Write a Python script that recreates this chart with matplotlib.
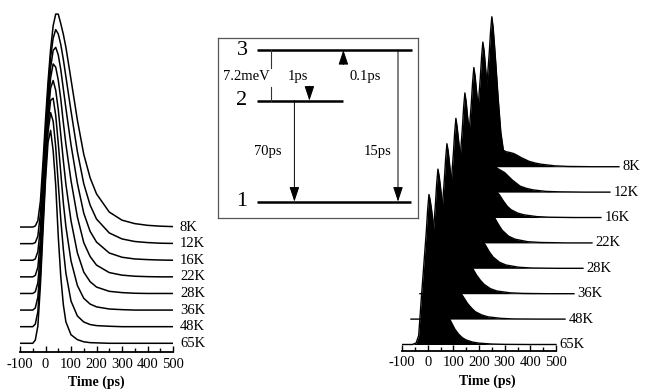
import matplotlib
matplotlib.use("Agg")
import matplotlib.pyplot as plt
from matplotlib.ticker import FixedLocator

plt.rcParams['font.family'] = ['Liberation Serif', 'DejaVu Serif']

# ---------------- data ----------------
temps = ['8K', '12K', '16K', '22K', '28K', '36K', '48K', '65K']
tick_values = [-100, 0, 100, 200, 300, 400, 500]
tick_labels = ['-100', '0', '100', '200', '300', '400', '500']
minor_values = [-50, 50, 150, 250, 350, 450]

# left panel: normalised PL transients (time in ps)
t_left = [-100, -50, -40, -30, -20, -10, 0, 10, 20, 30, 40, 50, 60, 70, 80,
          100, 125, 150, 175, 200, 250, 300, 350, 400, 450, 500]
left_8K = [0, 0, 0.005, 0.03, 0.12, 0.30, 0.50, 0.68, 0.83, 0.94, 0.995, 0.995, 0.95, 0.90, 0.84,
           0.69, 0.50, 0.34, 0.23, 0.155, 0.07, 0.032, 0.016, 0.008, 0.004, 0.002]
left_12K = [0, 0, 0.005, 0.035, 0.14, 0.33, 0.53, 0.72, 0.87, 0.96, 1.0, 0.98, 0.93, 0.86, 0.78,
            0.62, 0.43, 0.28, 0.18, 0.115, 0.05, 0.022, 0.01, 0.005, 0.002, 0.001]
left_16K = [0, 0, 0.006, 0.04, 0.15, 0.35, 0.56, 0.75, 0.90, 0.98, 0.995, 0.96, 0.89, 0.80, 0.71,
            0.54, 0.36, 0.22, 0.135, 0.085, 0.034, 0.014, 0.006, 0.003, 0.001, 0]
left_22K = [0, 0, 0.007, 0.045, 0.17, 0.38, 0.60, 0.79, 0.93, 0.995, 0.98, 0.92, 0.83, 0.72, 0.62,
            0.45, 0.28, 0.16, 0.095, 0.055, 0.02, 0.008, 0.003, 0.001, 0, 0]
left_28K = [0, 0, 0.008, 0.05, 0.19, 0.41, 0.64, 0.83, 0.96, 0.995, 0.95, 0.86, 0.74, 0.62, 0.51,
            0.34, 0.19, 0.10, 0.055, 0.03, 0.01, 0.004, 0.001, 0, 0, 0]
left_36K = [0, 0, 0.01, 0.06, 0.21, 0.44, 0.68, 0.87, 0.98, 0.99, 0.91, 0.78, 0.64, 0.50, 0.39,
            0.23, 0.115, 0.055, 0.028, 0.015, 0.005, 0.002, 0, 0, 0, 0]
left_48K = [0, 0, 0.012, 0.07, 0.24, 0.48, 0.72, 0.91, 1.0, 0.96, 0.84, 0.67, 0.50, 0.36, 0.25,
            0.12, 0.05, 0.022, 0.01, 0.005, 0.002, 0, 0, 0, 0, 0]
left_65K = [0, 0, 0.015, 0.08, 0.27, 0.52, 0.76, 0.94, 0.995, 0.90, 0.74, 0.50, 0.31, 0.18, 0.10,
            0.04, 0.017, 0.007, 0.003, 0.002, 0, 0, 0, 0, 0, 0]
left_traces = [left_8K, left_12K, left_16K, left_22K, left_28K, left_36K, left_48K, left_65K]

# right panel: normalised transients (filled waterfall)
t_right = [-100, -60, -45, -35, -25, -15, -5, 0, 5, 10, 15, 20, 30, 40, 50, 60, 75, 90,
           105, 120, 135, 150, 175, 200, 250, 300, 400, 500]
right_8K = [0, 0, 0.01, 0.06, 0.30, 0.53, 0.76, 0.90, 1.0, 0.93, 0.82, 0.70, 0.45, 0.23, 0.11, 0.10, 0.095, 0.088,
            0.075, 0.06, 0.048, 0.036, 0.024, 0.016, 0.006, 0.002, 0, 0]
right_12K = [0, 0, 0.01, 0.06, 0.30, 0.53, 0.76, 0.90, 1.0, 0.94, 0.84, 0.74, 0.52, 0.33, 0.20, 0.16, 0.145, 0.13,
             0.105, 0.08, 0.06, 0.04, 0.025, 0.015, 0.005, 0.002, 0, 0]
right_16K = [0, 0, 0.01, 0.06, 0.30, 0.53, 0.76, 0.90, 1.0, 0.94, 0.85, 0.76, 0.56, 0.40, 0.30, 0.25, 0.21, 0.18,
             0.15, 0.11, 0.075, 0.052, 0.03, 0.018, 0.006, 0.002, 0, 0]
right_22K = [0, 0, 0.01, 0.06, 0.30, 0.53, 0.76, 0.90, 1.0, 0.94, 0.85, 0.77, 0.58, 0.43, 0.34, 0.29, 0.25, 0.23,
             0.20, 0.17, 0.125, 0.085, 0.045, 0.025, 0.008, 0.003, 0, 0]
right_28K = [0, 0, 0.01, 0.06, 0.30, 0.53, 0.76, 0.90, 1.0, 0.94, 0.86, 0.78, 0.59, 0.44, 0.34, 0.29, 0.25, 0.22,
             0.19, 0.155, 0.11, 0.075, 0.04, 0.022, 0.007, 0.002, 0, 0]
right_36K = [0, 0, 0.01, 0.06, 0.30, 0.53, 0.76, 0.90, 1.0, 0.95, 0.87, 0.79, 0.60, 0.44, 0.34, 0.28, 0.24, 0.21,
             0.17, 0.125, 0.09, 0.062, 0.033, 0.018, 0.006, 0.002, 0, 0]
right_48K = [0, 0, 0.01, 0.06, 0.30, 0.53, 0.76, 0.90, 1.0, 0.95, 0.88, 0.80, 0.60, 0.43, 0.32, 0.26, 0.22, 0.185,
             0.145, 0.105, 0.075, 0.05, 0.028, 0.015, 0.005, 0.001, 0, 0]
right_65K = [0, 0, 0.01, 0.06, 0.30, 0.53, 0.76, 0.90, 1.0, 0.96, 0.90, 0.83, 0.62, 0.43, 0.31, 0.25, 0.21, 0.155,
             0.105, 0.07, 0.045, 0.03, 0.016, 0.009, 0.003, 0.001, 0, 0]
right_traces = [right_8K, right_12K, right_16K, right_22K, right_28K, right_36K, right_48K, right_65K]

# level scheme
level_names = ['3', '2', '1']
transition_labels = ['7.2meV', '1ps', '0.1ps', '70ps', '15ps']

# ---------------- figure ----------------
W, H = 646, 392
fig = plt.figure(figsize=(W / 100, H / 100), dpi=100)


def px_axes(x0, y0, x1, y1):
    return fig.add_axes([x0 / W, 1 - y1 / H, (x1 - x0) / W, (y1 - y0) / H])


def style_time_axis(ax, label_x):
    for s in ('top', 'left', 'right'):
        ax.spines[s].set_visible(False)
    ax.spines['bottom'].set_bounds(-100, 500)
    ax.spines['bottom'].set_linewidth(1.3)
    ax.xaxis.set_major_locator(FixedLocator(tick_values))
    ax.xaxis.set_minor_locator(FixedLocator(minor_values))
    ax.set_xticklabels(tick_labels)
    ax.tick_params(axis='x', which='major', direction='in', length=4, width=1.0,
                   labelsize=10.5, pad=4)
    ax.tick_params(axis='x', which='minor', direction='in', length=3, width=1.0)
    ax.set_yticks([])
    ax.set_xlabel('Time (ps)', fontsize=10, fontweight='bold')
    ax.xaxis.set_label_coords(label_x, -0.068)


n = len(temps)

# left panel
axL = px_axes(20, 0, 173, 352)
dyL = 0.0776
for i, (lab, vals) in enumerate(zip(temps, left_traces)):
    off = (n - 1 - i) * dyL
    axL.plot(t_left, [v + off for v in vals], color='k', lw=1.1, solid_joinstyle='round')
    axL.text(527, off, lab, fontsize=10.5, va='center', ha='left', clip_on=False)
axL.set_xlim(-100, 500)
axL.set_ylim(-0.0407, 1.604)
style_time_axis(axL, 0.5)

# right panel
axR = px_axes(402, 0, 646, 350.5)
pxps = 154 / 600
axR.set_xlim(-100, -100 + 244 / pxps)
axR.set_ylim(-0.04, 344.5 / 150)
dyR = 0.1693
dxR = 35
for i, (lab, vals) in enumerate(zip(temps, right_traces)):
    k = n - 1 - i
    xs = [t + k * dxR for t in t_right]
    base = k * dyR
    ys = [base + v for v in vals]
    axR.fill_between(xs, base, ys, color='k', lw=0)
    axR.plot(xs, ys, color='k', lw=1.0)
    axR.text(500 + k * dxR + 14, base, lab, fontsize=10.5, va='center', ha='left')
style_time_axis(axR, (487 - 402) / 244)

# inset level scheme
axI = px_axes(218, 38, 418, 218)
axI.set_xlim(0, 1)
axI.set_ylim(0, 1)
axI.set_xticks([])
axI.set_yticks([])
for s in axI.spines.values():
    s.set_color('#555555')
    s.set_linewidth(0.9)

lev_y = [0.933, 0.652, 0.091]
lev_x1 = [0.968, 0.627, 0.965]
for name, y, x1 in zip(level_names, lev_y, lev_x1):
    axI.plot([0.193, x1], [y, y], color='k', lw=1.8, solid_capstyle='butt')
    axI.text(0.12, y, name, fontsize=16, ha='center', va='center')

# 7.2 meV spacing marker
axI.plot([0.263, 0.263], [lev_y[0], 0.835], color='#333333', lw=0.8)
axI.plot([0.263, 0.263], [0.73, lev_y[1]], color='#333333', lw=0.8)

arrow_kw = dict(arrowstyle='-|>,head_length=0.9,head_width=0.3', color='k', lw=0.7,
                mutation_scale=10, shrinkA=0, shrinkB=0)
# 1ps : 3 -> 2
axI.annotate('', xy=(0.457, lev_y[1]), xytext=(0.457, lev_y[1] + 0.08), arrowprops=arrow_kw)
# 0.1ps : 2 -> 3 (up)
axI.annotate('', xy=(0.627, lev_y[0]), xytext=(0.627, lev_y[0] - 0.08), arrowprops=arrow_kw)
# 70ps : 2 -> 1
axI.annotate('', xy=(0.382, lev_y[2]), xytext=(0.382, lev_y[1]), arrowprops=arrow_kw)
# 15ps : 3 -> 1
axI.annotate('', xy=(0.90, lev_y[2]), xytext=(0.90, lev_y[0]), arrowprops=arrow_kw)

label_pos = [(0.14, 0.785), (0.40, 0.785), (0.735, 0.785), (0.25, 0.368), (0.80, 0.368)]
for txt, (x, y) in zip(transition_labels, label_pos):
    axI.text(x, y, txt, fontsize=10.5, ha='center', va='center')

fig.savefig('out.png', dpi=100)
